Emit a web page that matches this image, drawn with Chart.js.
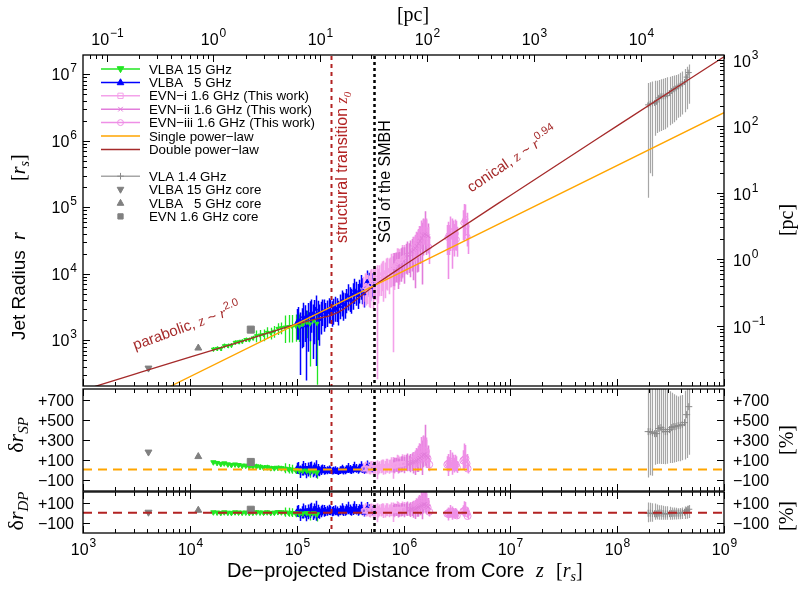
<!DOCTYPE html>
<html>
<head>
<meta charset="utf-8">
<script src="https://cdn.jsdelivr.net/npm/chart.js@4.4.1/dist/chart.umd.min.js"></script>
<style>
  html, body { margin: 0; padding: 0; background: #fff; }
  #wrap { position: relative; width: 798px; height: 589px; }
  #wrap canvas { position: absolute; left: 0; top: 0; }
</style>
</head>
<body>
<div id="wrap">
  <canvas id="cMain" width="798" height="589"></canvas>
  <canvas id="cSP" width="798" height="589"></canvas>
  <canvas id="cDP" width="798" height="589"></canvas>
</div>
<script>
/* ═══════════════════════════════════════════
   Jet radius profile — three stacked panels
   ═══════════════════════════════════════════ */

// ── AXIS RANGES / CONSTANTS ──
const zMin = 1e3, zMax = 1e9;
const rMin = 206, rMax = 1.95e7;
const spMin = -215, spMax = 807;
const dpMin = -206, dpMax = 210;
const spTicks = [-100, 100, 300, 500, 700];
const dpTicks = [-100, 100];
const rsPerPc = 1.66e4;          // 1 pc expressed in r_s (top + right axes)
const zTransition = 2.1e5;       // structural transition z0
const zSGI = 5.3e5;              // sphere of gravitational influence

// Each data set: z [r_s], r [r_s], lower / upper error [% of r],
// residual from single (SP) and double (DP) power-law fit [%]

// ── VLBA 15 GHz ──
const vlba15Z  = [1.66e4, 1.8e4, 1.95e4, 2.1e4, 2.27e4, 2.45e4, 2.65e4, 2.86e4, 3.09e4, 3.34e4, 3.6e4, 3.89e4, 4.2e4, 4.54e4, 4.9e4, 5.3e4, 5.72e4, 6.18e4, 6.67e4, 7.2e4, 7.78e4, 8.4e4, 9.07e4, 9.8e4, 1.06e5, 1.14e5, 1.24e5, 1.33e5, 1.44e5, 1.55e5];
const vlba15R  = [736, 753, 752, 828, 828, 843, 931, 948, 966, 1026, 1021, 1084, 1172, 1197, 1216, 1315, 1288, 1368, 1510, 1542, 1578, 1607, 1607, 1637, 1626, 1722, 1862, 1762, 1950, 1795];
const vlba15Lo = [8, 8, 8, 8, 8, 8, 8, 8, 8, 8, 8, 8, 20, 20, 20, 20, 20, 20, 20, 20, 42, 42, 42, 42, 42, 52, 42, 77, 42, 88];
const vlba15Hi = [8, 8, 8, 8, 8, 8, 8, 8, 8, 8, 8, 8, 20, 20, 20, 20, 20, 20, 20, 20, 50, 50, 50, 50, 50, 50, 50, 50, 50, 50];
const vlba15SP = [73, 66, 56, 62, 52, 46, 51, 45, 39, 39, 30, 30, 32, 27, 21, 23, 14, 14, 18, 14, 9, 4, -2, -6, -12, -12, -11, -20, -17, -28];
const vlba15DP = [4, 2, -2, 4, 0, -2, 4, 2, 0, 2, -2, 0, 4, 2, 0, 4, -2, 0, 6, 4, 2, 0, -4, -6, -10, -8, -4, -12, -6, -16];

// ── VLBA 5 GHz ──
const vlba5Z  = [1.0e5, 1.035e5, 1.07e5, 1.11e5, 1.15e5, 1.19e5, 1.23e5, 1.27e5, 1.32e5, 1.37e5, 1.41e5, 1.46e5, 1.51e5, 1.57e5, 1.62e5, 1.68e5, 1.74e5, 1.8e5, 1.86e5, 1.93e5, 2.0e5, 2.07e5, 2.14e5, 2.21e5, 2.29e5, 2.37e5, 2.45e5, 2.54e5, 2.63e5, 2.72e5, 2.82e5, 2.92e5, 3.02e5, 3.13e5, 3.24e5, 3.35e5, 3.47e5, 3.59e5, 3.72e5, 3.85e5, 3.98e5, 4.12e5, 4.27e5, 4.42e5, 4.57e5, 4.73e5, 4.9e5, 5.07e5, 5.25e5];
const vlba5R  = [1850, 2050, 1590, 1900, 2270, 2100, 1660, 2250, 2420, 2600, 2090, 2500, 2950, 2500, 2080, 2450, 2740, 2700, 2460, 2650, 2900, 2800, 2580, 2850, 3070, 2950, 2700, 3250, 3800, 3600, 3420, 4000, 4670, 4300, 4040, 4800, 5690, 5200, 4760, 5600, 6600, 5800, 5030, 6300, 7670, 7000, 6240, 6900, 7580];
const vlba5Lo = [45, 50, 81, 60, 65, 55, 85, 70, 60, 50, 75, 65, 86, 60, 60, 50, 40, 50, 38, 40, 38, 36, 38, 40, 38, 36, 38, 36, 40, 45, 38, 36, 40, 38, 38, 40, 38, 36, 38, 36, 38, 40, 38, 36, 38, 36, 38, 36, 38];
const vlba5Hi = [60, 55, 65, 60, 62, 60, 70, 62, 60, 58, 65, 62, 60, 58, 66, 56, 50, 52, 48, 50, 48, 46, 50, 48, 48, 46, 46, 50, 48, 45, 50, 48, 50, 46, 48, 50, 48, 46, 48, 46, 46, 48, 46, 50, 46, 48, 46, 48, 46];
const vlba5SP = [5, 13, -15, -1, 15, 4, -20, 5, 10, 15, -10, 5, 20, -1, -20, -8, 0, -4, -15, -11, -5, -11, -20, -14, -10, -16, -25, -12, 0, -8, -15, -3, 10, -1, -10, 4, 20, 7, -5, 9, 25, 7, -10, 10, 30, 15, 0, 8, 15];
const vlba5DP = [6, 15, -13, 3, 20, 10, -15, 13, 20, 27, 1, 19, 38, 15, -6, 10, 21, 18, 6, 13, 22, 16, 5, 14, 19, 11, -1, 16, 32, 20, 11, 25, 41, 25, 12, 28, 46, 29, 13, 28, 45, 22, 1, 22, 43, 25, 7, 14, 20];

// ── EVN-i 1.6 GHz ──
const evn1Z  = [4.22e5, 4.34e5, 4.47e5, 4.6e5, 4.73e5, 4.87e5, 5.01e5, 5.16e5, 5.31e5, 5.46e5, 5.62e5, 5.79e5, 5.96e5, 6.13e5, 6.31e5, 6.49e5, 6.68e5, 6.88e5, 7.08e5, 7.29e5, 7.5e5, 7.72e5, 7.94e5, 8.17e5, 8.41e5, 8.66e5, 8.91e5, 9.17e5, 9.44e5, 9.71e5, 1.0e6];
const evn1R  = [5810, 6340, 6660, 6400, 6070, 6830, 7620, 7410, 7320, 8030, 8710, 7980, 8380, 9250, 9910, 9510, 9580, 10610, 11280, 10940, 11380, 12530, 13290, 12660, 13400, 14690, 15540, 15180, 15740, 16970, 17580];
const evn1Lo = [45, 40, 50, 45, 48, 55, 45, 60, 45, 50, 97, 55, 45, 50, 45, 60, 55, 45, 50, 55, 45, 50, 95, 55, 45, 50, 45, 55, 45, 50, 45];
const evn1Hi = [55, 60, 55, 50, 55, 65, 55, 60, 55, 55, 55, 50, 60, 55, 55, 65, 55, 60, 55, 55, 55, 60, 55, 55, 55, 65, 55, 55, 55, 60, 55];
const evn1SP = [5, 12, 15, 8, 0, 10, 20, 14, 10, 18, 25, 12, 15, 24, 30, 22, 20, 30, 35, 28, 30, 40, 45, 35, 40, 50, 55, 48, 50, 58, 60];
const evn1DP = [16, 23, 25, 16, 6, 16, 25, 18, 13, 20, 26, 12, 14, 21, 26, 17, 14, 23, 26, 18, 19, 27, 31, 20, 24, 31, 34, 27, 28, 33, 34];

// ── EVN-ii 1.6 GHz ──
const evn2Z  = [7.94e5, 8.22e5, 8.51e5, 8.81e5, 9.12e5, 9.44e5, 9.77e5, 1.01e6, 1.05e6, 1.08e6, 1.12e6, 1.16e6, 1.2e6, 1.24e6, 1.29e6, 1.33e6, 1.38e6, 1.43e6, 1.48e6, 1.53e6, 1.58e6, 1.64e6, 1.7e6];
const evn2R  = [11910, 12990, 13550, 13130, 13800, 15230, 16200, 15760, 18250, 19340, 18670, 19810, 21630, 22880, 24190, 26240, 28390, 31360, 34480, 37750, 39590, 38240, 36800];
const evn2Lo = [45, 50, 45, 55, 45, 50, 45, 55, 45, 50, 45, 55, 50, 65, 75, 60, 62, 55, 80, 50, 45, 50, 45];
const evn2Hi = [55, 58, 55, 60, 55, 58, 55, 60, 55, 58, 55, 60, 55, 58, 55, 60, 60, 65, 70, 80, 120, 70, 55];
const evn2SP = [30, 38, 40, 32, 35, 45, 50, 42, 60, 65, 55, 60, 70, 75, 80, 90, 100, 115, 130, 145, 150, 135, 120];
const evn2DP = [15, 21, 22, 14, 15, 23, 26, 18, 32, 35, 25, 28, 35, 38, 40, 47, 53, 63, 73, 83, 85, 72, 60];

// ── EVN-iii 1.6 GHz ──
const evn3Z  = [1.23e6, 1.27e6, 1.32e6, 1.37e6, 1.41e6, 1.46e6, 1.51e6, 1.57e6, 1.62e6, 1.68e6, 1.74e6, 2.57e6, 2.63e6, 2.69e6, 2.75e6, 2.82e6, 2.88e6, 2.95e6, 3.02e6, 3.09e6, 3.16e6, 3.63e6, 3.72e6, 3.8e6, 3.89e6, 3.98e6];
const evn3R  = [24590, 26600, 28690, 31590, 36100, 40810, 45750, 45440, 45110, 34780, 25530, 34920, 37940, 35020, 44260, 42570, 40800, 36360, 41000, 40410, 32900, 58180, 62380, 66700, 51740, 36180];
const evn3Lo = [40, 42, 40, 45, 40, 42, 40, 40, 42, 40, 45, 45, 78, 45, 50, 72, 45, 50, 45, 45, 45, 45, 50, 45, 50, 45];
const evn3Hi = [45, 45, 50, 50, 45, 55, 45, 45, 50, 45, 45, 55, 60, 55, 65, 60, 55, 55, 60, 55, 55, 55, 80, 65, 60, 55];
const evn3SP = [90, 100, 110, 125, 150, 175, 200, 190, 180, 110, 50, 50, 60, 45, 80, 70, 60, 40, 55, 50, 20, 90, 100, 110, 60, 10];
const evn3DP = [52, 58, 65, 76, 93, 110, 128, 118, 109, 54, 10, -10, -4, -13, 8, 2, -4, -16, -7, -10, -28, 14, 20, 26, -4, -34];

// ── VLA 1.4 GHz ──
const vlaZ  = [1.95e8, 2.04e8, 2.14e8, 2.24e8, 2.34e8, 2.45e8, 2.57e8, 2.69e8, 2.82e8, 2.95e8, 3.09e8, 3.24e8, 3.39e8, 3.55e8, 3.72e8, 3.89e8, 4.07e8, 4.27e8, 4.47e8, 4.68e8];
const vlaR  = [3.47e6, 3.6e6, 3.66e6, 3.71e6, 3.85e6, 4.42e6, 4.67e6, 4.67e6, 4.65e6, 4.82e6, 5.21e6, 5.62e6, 5.95e6, 6.15e6, 6.51e6, 6.75e6, 7.13e6, 7.67e6, 9.07e6, 1.06e7];
const vlaLo = [96, 91, 92, 68, 66, 69, 70, 69, 68, 67, 67, 68, 68, 67, 66, 66, 65, 65, 67, 66];
const vlaHi = [113, 111, 113, 116, 108, 86, 80, 84, 89, 87, 77, 67, 61, 59, 54, 56, 54, 56, 43, 32];
const vlaSP = [380, 380, 370, 360, 360, 410, 420, 400, 380, 380, 400, 420, 430, 430, 440, 440, 450, 470, 550, 630];
const vlaDP = [-5, -5, -8, -10, -12, -5, -3, -8, -12, -12, -10, -8, -5, -5, -5, -5, 0, 5, 20, 35];

// ── CORES: VLBA 15 GHz, VLBA 5 GHz, EVN 1.6 GHz ──
const coreZ  = [4.1e3, 1.2e4, 3.72e4];
const coreR  = [383, 766, 1450];
const coreSP = [175, 130, 76];
const coreDP = [5, 25, 30];

// ── FITS ──
const singleZ = [1e3, 1e9];
const singleR = [45.6, 2.65e6];
const doubleZ = [1e3, 3e3, 1e4, 3e4, 1e5, 1.6e5, 2.1e5, 2.7e5, 3.5e5, 5.2e5, 1e6, 1e7, 1e8, 1e9];
const doubleR = [178, 309, 562, 955, 1760, 2140, 2370, 2880, 3940, 6460, 13200, 1.51e5, 1.675e6, 1.84e7];

// ── STYLE ──
const SANS  = '"Liberation Sans", Arial, Helvetica, sans-serif';
const SERIF = '"Liberation Serif", "Times New Roman", serif';
const COL = {
  green: '#22e622', blue: '#0000ff',
  evn1: '#f4a2ea', evn2: '#e27ddb', evn3: '#ee8fe6',
  vla: '#a6a6a6', vlaMark: '#8a8a8a', core: '#808080',
  orange: '#ffa500', brown: '#a52a2a', trans: '#b22222'
};
const PAD_L = 83, PAD_R = 74;

// ── HELPERS ──
const pts = (xs, ys) => xs.map((x, i) => ({ x, y: ys[i] }));

function logTicks(min, max) {
  const out = [];
  for (let e = Math.floor(Math.log10(min)); e <= Math.ceil(Math.log10(max)); e++) {
    for (let m = 1; m <= 9; m++) {
      const v = m * Math.pow(10, e);
      if (v >= min * 0.9999 && v <= max * 1.0001) out.push({ v, major: m === 1, exp: e });
    }
  }
  return out;
}

function drawPow(ctx, exp, x, y, align) {
  const ex = exp < 0 ? '\u2212' + (-exp) : String(exp);
  ctx.font = '16px ' + SANS;
  const wb = ctx.measureText('10').width;
  ctx.font = '12px ' + SANS;
  const we = ctx.measureText(ex).width;
  const w = wb + we + 1;
  const x0 = align === 'right' ? x - w : align === 'center' ? x - w / 2 : x;
  ctx.textAlign = 'left'; ctx.textBaseline = 'middle';
  ctx.font = '16px ' + SANS; ctx.fillText('10', x0, y);
  ctx.font = '12px ' + SANS; ctx.fillText(ex, x0 + wb + 1, y - 7);
}

// mixed-font text run: parts = [{t, f, dy}]
function rich(ctx, parts, x, y, align) {
  let w = 0;
  parts.forEach(p => { ctx.font = p.f; p.w = ctx.measureText(p.t).width; w += p.w; });
  let cx = align === 'center' ? x - w / 2 : align === 'right' ? x - w : x;
  ctx.textAlign = 'left'; ctx.textBaseline = 'alphabetic';
  parts.forEach(p => {
    ctx.font = p.f;
    ctx.fillText(p.t, cx, y + (p.dy || 0));
    cx += p.w;
  });
}

function rotated(ctx, x, y, deg, fn) {
  ctx.save(); ctx.translate(x, y); ctx.rotate(deg * Math.PI / 180); fn(); ctx.restore();
}

function drawMark(ctx, ds, x, y, r) {
  ctx.save();
  ctx.translate(x, y); ctx.rotate((ds.pointRotation || 0) * Math.PI / 180);
  ctx.strokeStyle = ds.pointBorderColor; ctx.fillStyle = ds.pointBackgroundColor; ctx.lineWidth = 1;
  ctx.beginPath();
  switch (ds.pointStyle) {
    case 'triangle': ctx.moveTo(0, -r * 1.1); ctx.lineTo(r, r * 0.7); ctx.lineTo(-r, r * 0.7); ctx.closePath(); ctx.fill(); ctx.stroke(); break;
    case 'rect': ctx.rect(-r * 0.8, -r * 0.8, r * 1.6, r * 1.6); ctx.fill(); ctx.stroke(); break;
    case 'circle': ctx.arc(0, 0, r * 0.9, 0, 2 * Math.PI); ctx.fill(); ctx.stroke(); break;
    case 'crossRot': ctx.moveTo(-r * .7, -r * .7); ctx.lineTo(r * .7, r * .7); ctx.moveTo(r * .7, -r * .7); ctx.lineTo(-r * .7, r * .7); ctx.stroke(); break;
    case 'cross': ctx.moveTo(-r, 0); ctx.lineTo(r, 0); ctx.moveTo(0, -r); ctx.lineTo(0, r); ctx.stroke(); break;
  }
  ctx.restore();
}

// ── DATASET BUILDERS ──
function errSet(label, st, xs, ys, lo, hi, order) {
  return {
    label, data: pts(xs, ys), errLo: lo, errHi: hi, errColor: st.bar || st.color, errWidth: st.bw || 1.2,
    showLine: false, order,
    borderColor: st.color, pointStyle: st.style, pointRotation: st.rot || 0, pointRadius: st.r,
    pointBorderColor: st.color, pointBackgroundColor: st.hollow ? 'rgba(0,0,0,0)' : st.color, pointBorderWidth: 1
  };
}
// main panel: bounds from % errors on r
function radiusSet(label, st, xs, rs, loPct, hiPct, order) {
  return errSet(label, st, xs, rs,
    rs.map((r, i) => r * (1 - loPct[i] / 100)), rs.map((r, i) => r * (1 + hiPct[i] / 100)), order);
}
// residual panels: same relative errors carried onto the residual
function residSet(st, xs, res, loPct, hiPct, order) {
  return errSet('', st, xs, res,
    res.map((v, i) => v - loPct[i] * (1 + v / 100)), res.map((v, i) => v + hiPct[i] * (1 + v / 100)), order);
}
function markSet(label, style, rot, radius, x, y) {
  return {
    label, data: [{ x, y }], showLine: false, order: 1, legendLine: false,
    borderColor: COL.core, pointStyle: style, pointRotation: rot, pointRadius: radius,
    pointBorderColor: COL.core, pointBackgroundColor: COL.core, pointBorderWidth: 1
  };
}
function fitSet(label, color, xs, ys, dash, width) {
  return {
    label, data: pts(xs, ys), showLine: true, order: 0, pointRadius: 0,
    borderColor: color, borderWidth: width || 1.3, borderDash: dash || [],
    cubicInterpolationMode: 'monotone', fill: false
  };
}

const ST = {
  v15:  { color: COL.green, style: 'triangle', rot: 180, r: 2.2, bw: 1.3 },
  v5:   { color: COL.blue, style: 'triangle', r: 2.2, bw: 1.5 },
  e1:   { color: COL.evn1, style: 'rect', r: 2.2, hollow: true, bw: 1.6 },
  e2:   { color: COL.evn2, style: 'crossRot', r: 2.5, bw: 1.6 },
  e3:   { color: COL.evn3, style: 'circle', r: 2.5, hollow: true, bw: 1.6 },
  vla:  { color: COL.vlaMark, bar: COL.vla, style: 'cross', r: 3, bw: 1.2 }
};
const big = (st, r) => Object.assign({}, st, { r });

// ── PLUGINS ──
const errorBars = {
  id: 'errorBars',
  beforeDatasetsDraw(chart) {
    const { ctx, chartArea: a } = chart;
    ctx.save();
    ctx.beginPath(); ctx.rect(a.left, a.top, a.right - a.left, a.bottom - a.top); ctx.clip();
    chart.data.datasets
      .map((ds, i) => ({ ds, meta: chart.getDatasetMeta(i) }))
      .filter(o => o.ds.errLo)
      .sort((p, q) => (q.ds.order || 0) - (p.ds.order || 0))
      .forEach(({ ds, meta }) => {
        ctx.strokeStyle = ds.errColor; ctx.lineWidth = ds.errWidth;
        ctx.beginPath();
        ds.data.forEach((p, j) => {
          const px = Math.round(meta.xScale.getPixelForValue(p.x)) + 0.5;
          ctx.moveTo(px, meta.yScale.getPixelForValue(ds.errLo[j]));
          ctx.lineTo(px, meta.yScale.getPixelForValue(ds.errHi[j]));
        });
        ctx.stroke();
      });
    ctx.restore();
  }
};

const vLines = {
  id: 'vLines',
  afterDatasetsDraw(chart) {
    const { ctx, chartArea: a, scales: { x } } = chart;
    ctx.save();
    [[zTransition, COL.trans, [4, 4], 2], [zSGI, '#000', [3, 3], 2.5]].forEach(([z, c, d, w]) => {
      const px = Math.round(x.getPixelForValue(z)) + 0.5;
      ctx.strokeStyle = c; ctx.lineWidth = w; ctx.setLineDash(d);
      ctx.beginPath(); ctx.moveTo(px, a.top + 1); ctx.lineTo(px, a.bottom); ctx.stroke();
    });
    ctx.restore();
  }
};

function gnuAxes(edges) {
  return {
    id: 'gnuAxes',
    afterDraw(chart) {
      const { ctx, chartArea: a } = chart;
      ctx.save();
      ctx.strokeStyle = '#000'; ctx.fillStyle = '#000'; ctx.lineWidth = 1;
      edges.forEach(e => {
        const sc = chart.scales[e.scale];
        const ticks = e.values ? e.values.map(v => ({ v, major: true })) : logTicks(sc.min, sc.max);
        ticks.forEach(t => {
          const p = Math.round(sc.getPixelForValue(t.v)) + 0.5;
          const len = t.major ? 7 : 4;
          ctx.beginPath();
          if (e.side === 'bottom') { ctx.moveTo(p, a.bottom); ctx.lineTo(p, a.bottom - len); }
          if (e.side === 'top')    { ctx.moveTo(p, a.top);    ctx.lineTo(p, a.top + len); }
          if (e.side === 'left')   { ctx.moveTo(a.left, p);   ctx.lineTo(a.left + len, p); }
          if (e.side === 'right')  { ctx.moveTo(a.right, p);  ctx.lineTo(a.right - len, p); }
          ctx.stroke();
          if (!e.labels || !t.major) return;
          if (e.values) {
            const txt = t.v > 0 ? '+' + t.v : '\u2212' + (-t.v);
            ctx.font = '16px ' + SANS; ctx.textBaseline = 'middle';
            if (e.side === 'left') { ctx.textAlign = 'right'; ctx.fillText(txt, a.left - 9, p + 1); }
            else { ctx.textAlign = 'left'; ctx.fillText(txt, a.right + 9, p + 1); }
          } else {
            if (e.side === 'left')   drawPow(ctx, t.exp, a.left - 6, p + 1, 'right');
            if (e.side === 'right')  drawPow(ctx, t.exp, a.right + 9, p + 2, 'left');
            if (e.side === 'top')    drawPow(ctx, t.exp, p, a.top - 14, 'center');
            if (e.side === 'bottom') drawPow(ctx, t.exp, p, a.bottom + 18, 'center');
          }
        });
      });
      ctx.lineWidth = 1.3;
      ctx.strokeRect(a.left, a.top, a.right - a.left, a.bottom - a.top);
      ctx.restore();
    }
  };
}

const mainText = {
  id: 'mainText',
  afterDraw(chart) {
    const { ctx, chartArea: a, scales: { x, y } } = chart;
    ctx.save();
    // legend
    const x0 = a.left + 18, x1 = a.left + 57;
    let ly = a.top + 14;
    chart.data.datasets.forEach(ds => {
      if (!ds.label) return;
      if (ds.legendGap) ly += 13.4;
      if (ds.legendLine !== false) {
        ctx.strokeStyle = ds.errColor || ds.borderColor; ctx.lineWidth = 1.5; ctx.setLineDash([]);
        ctx.beginPath(); ctx.moveTo(x0, ly); ctx.lineTo(x1, ly); ctx.stroke();
      }
      if (ds.pointRadius > 0) drawMark(ctx, ds, (x0 + x1) / 2, ly, 3.3);
      ctx.fillStyle = '#000'; ctx.font = '13.3px ' + SANS;
      ctx.textAlign = 'left'; ctx.textBaseline = 'middle';
      ctx.fillText(ds.label, a.left + 66, ly + 1);
      ly += 13.4;
    });

    // fit annotations
    const it15 = 'italic 15px ' + SERIF;
    ctx.fillStyle = COL.brown;
    rotated(ctx, x.getPixelForValue(3070), y.getPixelForValue(714), -20, () =>
      rich(ctx, [{ t: 'parabolic, ', f: '15px ' + SANS }, { t: 'z', f: it15 }, { t: ' ~ ', f: '15px ' + SANS },
                 { t: 'r', f: it15 }, { t: '2.0', f: '11px ' + SANS, dy: -7 }], 0, 0, 'left'));
    rotated(ctx, x.getPixelForValue(4.3e6), y.getPixelForValue(1.65e5), -34, () =>
      rich(ctx, [{ t: 'conical, ', f: '15px ' + SANS }, { t: 'z', f: it15 }, { t: ' ~ ', f: '15px ' + SANS },
                 { t: 'r', f: it15 }, { t: '0.94', f: '11px ' + SANS, dy: -7 }], 0, 0, 'left'));

    // vertical labels
    ctx.fillStyle = COL.trans;
    rotated(ctx, x.getPixelForValue(zTransition) + 16, 243, -90, () =>
      rich(ctx, [{ t: 'structural transition ', f: '16px ' + SANS }, { t: 'z', f: 'italic 16px ' + SERIF },
                 { t: '0', f: 'italic 11px ' + SERIF, dy: 4 }], 0, 0, 'left'));
    ctx.fillStyle = '#000';
    rotated(ctx, x.getPixelForValue(zSGI) + 16, 243, -90, () =>
      rich(ctx, [{ t: 'SGI of the SMBH', f: '16px ' + SANS }], 0, 0, 'left'));

    // axis titles
    rotated(ctx, 25, 340, -90, () => {
      rich(ctx, [{ t: 'Jet Radius', f: '19px ' + SANS }], 0, 0, 'left');
      rich(ctx, [{ t: 'r', f: 'italic 20px ' + SERIF }], 100, 0, 'left');
      rich(ctx, [{ t: '[', f: '20px ' + SERIF }, { t: 'r', f: 'italic 20px ' + SERIF },
                 { t: 's', f: 'italic 14px ' + SERIF, dy: 4 }, { t: ']', f: '20px ' + SERIF }], 159, 0, 'left');
    });
    rotated(ctx, 793, 220, -90, () => rich(ctx, [{ t: '[pc]', f: '20px ' + SERIF }], 0, 0, 'center'));
    rich(ctx, [{ t: '[pc]', f: '20px ' + SERIF }], 413, 21, 'center');
    ctx.restore();
  }
};

function sideText(title, sub, cy) {
  return {
    id: 'sideText',
    afterDraw(chart) {
      const ctx = chart.ctx;
      ctx.save(); ctx.fillStyle = '#000';
      rotated(ctx, 23, cy, -90, () =>
        rich(ctx, [{ t: '\u03b4', f: '22px ' + SERIF }, { t: title, f: 'italic 22px ' + SERIF },
                   { t: sub, f: 'italic 15px ' + SERIF, dy: 5 }], 0, 0, 'center'));
      rotated(ctx, 793, cy + 5, -90, () => rich(ctx, [{ t: '[%]', f: '20px ' + SERIF }], 0, 0, 'center'));
      ctx.restore();
    }
  };
}

const xTitle = {
  id: 'xTitle',
  afterDraw(chart) {
    const ctx = chart.ctx;
    ctx.save(); ctx.fillStyle = '#000';
    rich(ctx, [{ t: 'De\u2212projected Distance from Core', f: '20px ' + SANS }], 227, 577, 'left');
    rich(ctx, [{ t: 'z', f: 'italic 20px ' + SERIF }], 536, 577, 'left');
    rich(ctx, [{ t: '[', f: '20px ' + SERIF }, { t: 'r', f: 'italic 20px ' + SERIF },
               { t: 's', f: 'italic 14px ' + SERIF, dy: 4 }, { t: ']', f: '20px ' + SERIF }], 556, 577, 'left');
    ctx.restore();
  }
};

// ── CHART FACTORY ──
function panel(id, top, bottom, yScale, extraScales, datasets, plugins) {
  const scales = Object.assign({
    x: { type: 'logarithmic', min: zMin, max: zMax, display: false },
    y: Object.assign({ display: false }, yScale)
  }, extraScales || {});
  return new Chart(document.getElementById(id), {
    type: 'scatter',
    data: { datasets },
    options: {
      responsive: false, animation: false, events: [],
      layout: { padding: { left: PAD_L, right: PAD_R, top, bottom: 589 - bottom } },
      scales,
      plugins: { legend: { display: false }, tooltip: { enabled: false } }
    },
    plugins: [errorBars, vLines, ...plugins]
  });
}

// ── MAIN PANEL ──
const mainSets = [
  radiusSet('VLBA 15 GHz', ST.v15, vlba15Z, vlba15R, vlba15Lo, vlba15Hi, 3),
  radiusSet('VLBA   5 GHz', ST.v5, vlba5Z, vlba5R, vlba5Lo, vlba5Hi, 3),
  radiusSet('EVN\u2212i 1.6 GHz (This work)', ST.e1, evn1Z, evn1R, evn1Lo, evn1Hi, 2),
  radiusSet('EVN\u2212ii 1.6 GHz (This work)', ST.e2, evn2Z, evn2R, evn2Lo, evn2Hi, 2),
  radiusSet('EVN\u2212iii 1.6 GHz (This work)', ST.e3, evn3Z, evn3R, evn3Lo, evn3Hi, 2),
  fitSet('Single power\u2212law', COL.orange, singleZ, singleR),
  fitSet('Double power\u2212law', COL.brown, doubleZ, doubleR),
  Object.assign(radiusSet('VLA 1.4 GHz', ST.vla, vlaZ, vlaR, vlaLo, vlaHi, 2), { legendGap: true }),
  markSet('VLBA 15 GHz core', 'triangle', 180, 4, coreZ[0], coreR[0]),
  markSet('VLBA   5 GHz core', 'triangle', 0, 4, coreZ[1], coreR[1]),
  markSet('EVN 1.6 GHz core', 'rect', 0, 5, coreZ[2], coreR[2])
];

panel('cMain', 55, 386, { type: 'logarithmic', min: rMin, max: rMax }, {
  x2: { type: 'logarithmic', axis: 'x', position: 'top', min: zMin / rsPerPc, max: zMax / rsPerPc, display: false },
  y2: { type: 'logarithmic', axis: 'y', position: 'right', min: rMin / rsPerPc, max: rMax / rsPerPc, display: false }
}, mainSets, [
  gnuAxes([
    { side: 'bottom', scale: 'x' },
    { side: 'top', scale: 'x2', labels: true },
    { side: 'left', scale: 'y', labels: true },
    { side: 'right', scale: 'y2', labels: true }
  ]),
  mainText
]);

// ── RESIDUAL PANELS ──
function residualSets(res, zeroColor) {
  return [
    fitSet('', zeroColor, [zMin, zMax], [0, 0], [9, 6], 2),
    residSet(big(ST.v15, 3), vlba15Z, res.v15, vlba15Lo, vlba15Hi, 3),
    residSet(big(ST.v5, 3), vlba5Z, res.v5, vlba5Lo, vlba5Hi, 3),
    residSet(big(ST.e1, 3), evn1Z, res.e1, evn1Lo, evn1Hi, 2),
    residSet(big(ST.e2, 3), evn2Z, res.e2, evn2Lo, evn2Hi, 2),
    residSet(big(ST.e3, 3.5), evn3Z, res.e3, evn3Lo, evn3Hi, 2),
    residSet(big(ST.vla, 3.5), vlaZ, res.vla, vlaLo, vlaHi, 2),
    markSet('', 'triangle', 180, 4, coreZ[0], res.core[0]),
    markSet('', 'triangle', 0, 4, coreZ[1], res.core[1]),
    markSet('', 'rect', 0, 5, coreZ[2], res.core[2])
  ];
}

panel('cSP', 389, 491, { type: 'linear', min: spMin, max: spMax }, null,
  residualSets({ v15: vlba15SP, v5: vlba5SP, e1: evn1SP, e2: evn2SP, e3: evn3SP, vla: vlaSP, core: coreSP }, COL.orange), [
  gnuAxes([
    { side: 'bottom', scale: 'x' }, { side: 'top', scale: 'x' },
    { side: 'left', scale: 'y', values: spTicks, labels: true },
    { side: 'right', scale: 'y', values: spTicks, labels: true }
  ]),
  sideText('r', 'SP', 435)
]);

panel('cDP', 492, 533, { type: 'linear', min: dpMin, max: dpMax }, null,
  residualSets({ v15: vlba15DP, v5: vlba5DP, e1: evn1DP, e2: evn2DP, e3: evn3DP, vla: vlaDP, core: coreDP }, COL.trans), [
  gnuAxes([
    { side: 'bottom', scale: 'x', labels: true }, { side: 'top', scale: 'x' },
    { side: 'left', scale: 'y', values: dpTicks, labels: true },
    { side: 'right', scale: 'y', values: dpTicks, labels: true }
  ]),
  sideText('r', 'DP', 511),
  xTitle
]);
</script>
</body>
</html>
